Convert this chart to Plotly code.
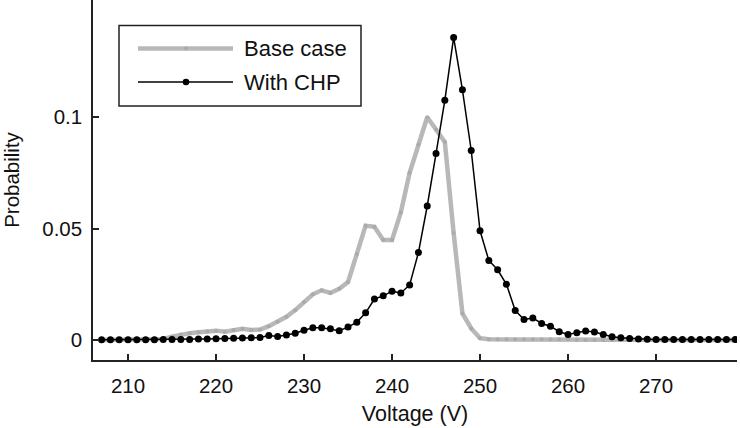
import plotly.graph_objects as go

voltage = list(range(207, 280))

base_case = [
    0, 0, 0, 0, 0, 0, 0,                      # 207-213
    0.0005, 0.0015, 0.0025, 0.003, 0.0035,    # 214-218
    0.0038, 0.0042, 0.0037, 0.0045, 0.005,    # 219-223
    0.0045, 0.0047, 0.0062, 0.0082, 0.0104,   # 224-228
    0.0134, 0.0171, 0.0205, 0.0223, 0.0211,   # 229-233
    0.023, 0.026, 0.0386, 0.0513, 0.0508,     # 234-238
    0.0449, 0.0449, 0.0572, 0.075, 0.0877,    # 239-243
    0.0999, 0.0944, 0.0888, 0.048, 0.0119,    # 244-248
    0.0052, 0.0008,                           # 249-250
    0.0003, 0.0003, 0.0003, 0.0003, 0.0003,   # 251-255
    0.0003, 0.0003, 0.0003, 0.0003, 0.0003,   # 256-260
    0, 0, 0, 0, 0, 0, 0, 0, 0, 0,             # 261-270
    0, 0, 0, 0, 0, 0, 0, 0, 0,                # 271-279
]

with_chp = [
    0.0001, 0.0001, 0.0001, 0.0001, 0.0001, 0.0001, 0.0001,  # 207-213
    0.0002, 0.0002, 0.0002, 0.0002, 0.0004,   # 214-218
    0.0005, 0.0006, 0.0007, 0.0008, 0.0009,   # 219-223
    0.001, 0.0011, 0.002, 0.0016, 0.0022,     # 224-228
    0.003, 0.0044, 0.0055, 0.0055, 0.005,     # 229-233
    0.0042, 0.0058, 0.008, 0.0122, 0.0184,    # 234-238
    0.0198, 0.0219, 0.0211, 0.0247, 0.0392,   # 239-243
    0.0601, 0.0836, 0.1075, 0.1357, 0.1122,   # 244-248
    0.085, 0.049, 0.0357, 0.0315, 0.025,      # 249-253
    0.0132, 0.0092, 0.0099, 0.0074, 0.0062,   # 254-258
    0.0037, 0.0025, 0.0033, 0.004, 0.0036,    # 259-263
    0.0025, 0.0015, 0.001, 0.0007, 0.0005,    # 264-268
    0.0003, 0.0002, 0.0002, 0.0002, 0.0002,   # 269-273
    0.0002, 0.0002, 0.0002, 0.0002, 0.0002, 0.0002,  # 274-279
]

x_ticks = [210, 220, 230, 240, 250, 260, 270]
y_ticks = [0, 0.05, 0.1]
y_tick_labels = ["0", "0.05", "0.1"]
series_names = ["Base case", "With CHP"]

GRAY = "#b8b8b8"
FONT = "Liberation Sans, Arial, sans-serif"

fig = go.Figure()
fig.add_trace(go.Scatter(
    x=voltage, y=base_case, name=series_names[0], mode="lines+markers",
    line=dict(color=GRAY, width=4.5),
    marker=dict(color="#aaaaaa", size=4),
    showlegend=False,
))
fig.add_trace(go.Scatter(
    x=voltage, y=with_chp, name=series_names[1], mode="lines+markers",
    line=dict(color="black", width=1.5),
    marker=dict(color="black", size=7),
    showlegend=False,
))

# manual legend (paper coordinates)
def px_x(p):
    return (p - 93) / 644.0

def px_y(p):
    return (360 - p) / 360.0

shapes = [
    dict(type="rect", xref="paper", yref="paper",
         x0=px_x(119), x1=px_x(361), y0=px_y(106), y1=px_y(25.5),
         line=dict(color="#222", width=1.5), fillcolor="white", layer="above"),
    dict(type="line", xref="paper", yref="paper",
         x0=px_x(138), x1=px_x(233), y0=px_y(48.5), y1=px_y(48.5),
         line=dict(color=GRAY, width=4.5), layer="above"),
    dict(type="line", xref="paper", yref="paper",
         x0=px_x(138), x1=px_x(233), y0=px_y(82), y1=px_y(82),
         line=dict(color="black", width=1.5), layer="above"),
    dict(type="circle", xref="paper", yref="paper", xsizemode="pixel", ysizemode="pixel",
         xanchor=px_x(186), yanchor=px_y(48.5), x0=-2, x1=2, y0=-2, y1=2,
         fillcolor="#aaaaaa", line=dict(width=0), layer="above"),
    dict(type="circle", xref="paper", yref="paper", xsizemode="pixel", ysizemode="pixel",
         xanchor=px_x(186), yanchor=px_y(82), x0=-3.3, x1=3.3, y0=-3.3, y1=3.3,
         fillcolor="black", line=dict(width=0), layer="above"),
]

annotations = [
    dict(text=series_names[0], xref="paper", yref="paper", x=px_x(242), y=px_y(49),
         xanchor="left", yanchor="middle", showarrow=False,
         font=dict(family=FONT, size=22, color="#111")),
    dict(text=series_names[1], xref="paper", yref="paper", x=px_x(242), y=px_y(82.5),
         xanchor="left", yanchor="middle", showarrow=False,
         font=dict(family=FONT, size=22, color="#111")),
]

fig.update_layout(
    width=740, height=428,
    margin=dict(l=93, r=3, t=0, b=68),
    paper_bgcolor="white", plot_bgcolor="white",
    font=dict(family=FONT, size=20, color="#111"),
    shapes=shapes, annotations=annotations,
    showlegend=False,
)
fig.update_xaxes(
    range=[206.02, 279.2], tickvals=x_ticks, automargin=False,
    ticks="inside", ticklen=6, tickwidth=1.5, tickcolor="#222",
    showline=True, linecolor="#222", linewidth=1.5, mirror=False,
    showgrid=False, zeroline=False,
    tickfont=dict(size=20.5), ticklabelstandoff=7,
    title=dict(text="Voltage (V)", font=dict(size=21.5), standoff=10),
)
fig.update_yaxes(
    range=[-0.00897, 0.1525], tickvals=y_ticks, ticktext=y_tick_labels, automargin=False,
    ticks="inside", ticklen=6, tickwidth=1.5, tickcolor="#222",
    showline=True, linecolor="#222", linewidth=1.5, mirror=False,
    showgrid=False, zeroline=False,
    tickfont=dict(size=20.5), ticklabelstandoff=5,
    title=dict(text="Probability", font=dict(size=20.5), standoff=17),
)

fig.write_html(
    "out.html",
    config={"displayModeBar": False},
    post_script="document.body.style.margin='0';document.body.style.overflow='hidden';",
)
